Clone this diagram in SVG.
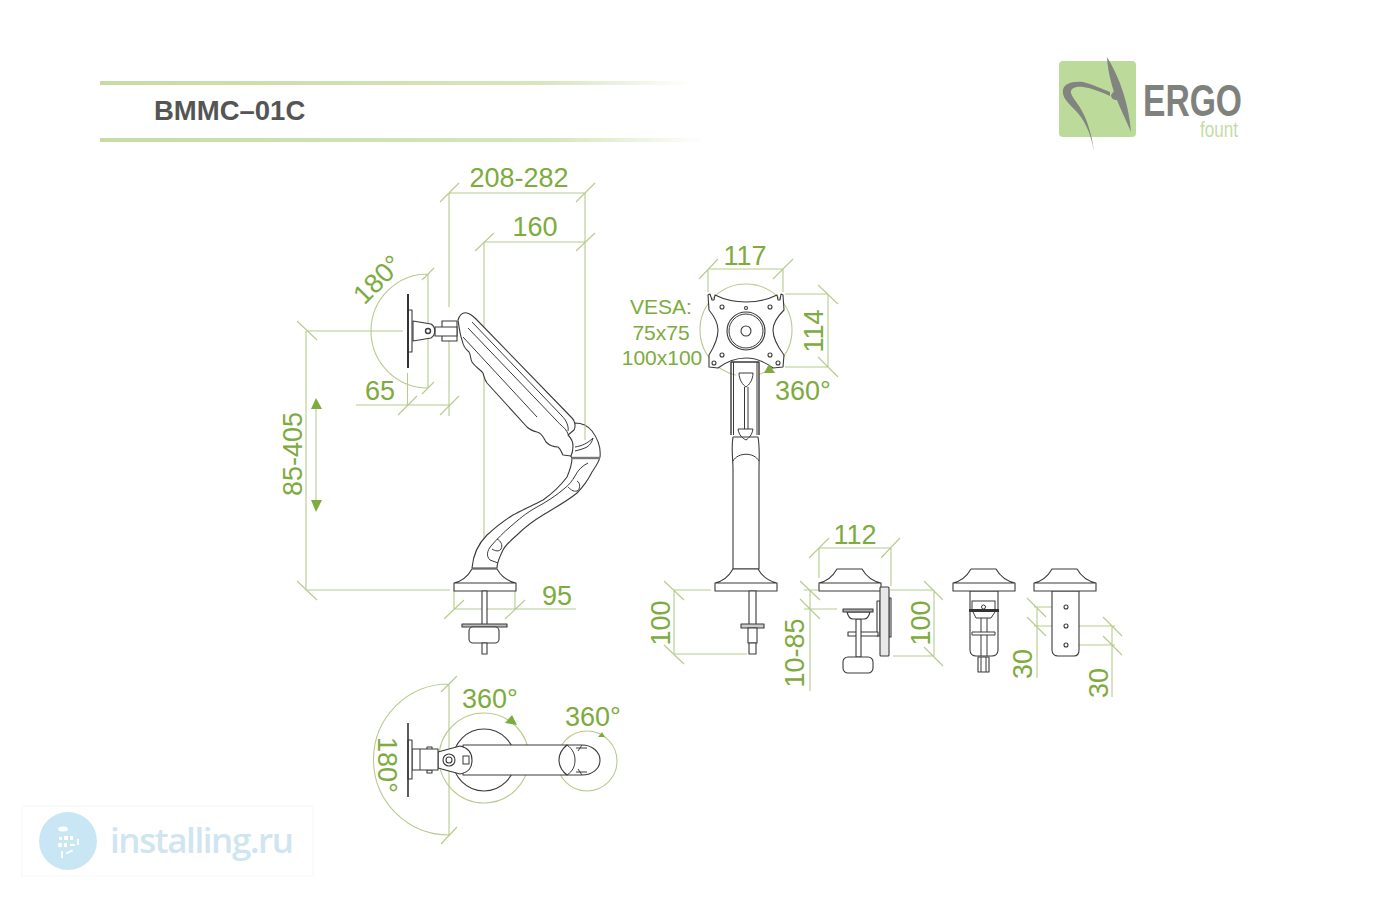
<svg xmlns="http://www.w3.org/2000/svg" width="1400" height="900" viewBox="0 0 1400 900">
<style>
.d{fill:none;stroke:#b6cb8e;stroke-width:1.1}
.k{fill:#fff;stroke:#3a3a3a;stroke-width:1.1;stroke-linejoin:round}
.n{fill:none;stroke:#3a3a3a;stroke-width:1}
.t{font-family:"Liberation Sans",Arial,sans-serif;font-size:27px;fill:#7dab3e;text-anchor:middle}
.v{font-size:21px}
.a{fill:#7dab3e}
</style>
<defs>
<linearGradient id="hl"><stop offset="0" stop-color="#c6dca2"/><stop offset=".75" stop-color="#d6e6bd"/><stop offset="1" stop-color="#fff"/></linearGradient>
<g id="flare"><path class="k" d="M18,0 H43 C47,7 53,12 62,14 V22 H0 V14 C9,12 14,7 18,0Z M0,14 H62"/></g>
</defs>
<rect width="1400" height="900" fill="#fff"/>

<g id="header">
<rect x="100" y="81" width="592" height="4" fill="url(#hl)"/>
<rect x="100" y="138" width="606" height="4" fill="url(#hl)"/>
<text x="154" y="120" font-family="'Liberation Sans',Arial,sans-serif" font-size="27.5" font-weight="700" fill="#555">BMMC–01C</text>
</g>

<g id="logo">
<rect x="1059" y="61" width="77" height="76" rx="4" fill="#bcdb9a"/>
<path fill="#82847f" d="M1107,57 C1120,78 1129,105 1131,132 C1124,114 1109,90 1107,57Z"/>
<path fill="#82847f" d="M1094,152 C1091,133 1084,118 1073,108 C1066,101 1062,96 1063,90 C1064,84 1071,81 1083,82 C1092,84 1102,89 1110,92 L1110,96 C1101,92 1092,88 1083,87 C1075,86 1070,89 1071,93 C1072,97 1076,101 1079,106 C1087,118 1092,135 1094,152Z"/>
<path fill="#82847f" d="M1114,91 C1118,93 1118,99 1117,100 C1113,100 1111,98 1111,95Z"/>
<text x="1143" y="116" font-family="'Liberation Sans Narrow','Liberation Sans',sans-serif" font-size="45" font-weight="700" fill="#7f817d" textLength="99" lengthAdjust="spacingAndGlyphs">ERGO</text>
<text x="1200" y="137" font-family="'Liberation Sans Narrow','Liberation Sans',sans-serif" font-size="22" fill="#c5dca6" textLength="38" lengthAdjust="spacingAndGlyphs">fount</text>
</g>

<g id="watermark">
<rect x="22" y="806" width="291" height="70" fill="#fff" stroke="#f6f6f6"/>
<circle cx="68" cy="841" r="29" fill="#c9e6f4"/>
<g fill="#fff">
<ellipse cx="63" cy="829" rx="5" ry="2.5"/>
<rect x="59" y="837" width="3" height="3"/><rect x="64" y="836" width="4" height="4"/><rect x="70" y="836" width="3" height="4"/>
<circle cx="60" cy="845" r="2.2"/><rect x="64" y="843" width="3" height="4"/><rect x="70" y="844" width="5" height="2"/>
<rect x="61" y="851" width="2" height="7"/><rect x="66" y="851" width="7" height="2" transform="rotate(-25 69 852)"/><rect x="77" y="839" width="2" height="6"/>
</g>
<text x="110" y="853" font-family="'Open Sans','DejaVu Sans',sans-serif" font-size="35" font-weight="600" fill="#cfe5ef" textLength="184" lengthAdjust="spacing">installing.ru</text>
</g>

<g id="connectors">
<path class="d" d="M449,193 H585 M440,202 L459,183 M576,202 L595,183"/>
<path class="d" d="M484,242 H585 M475,251 L494,233 M576,251 L595,233"/>
<path class="d" d="M449,193 V307 M449,340 V416 M585,193 V430 M484,242 V545"/>
<path class="d" d="M428,274 A57,57 0 0 0 428,388 M428,274 V388 M422,280 L434,268 M422,394 L434,382"/>
<path class="d" d="M306,331 H403 M297,321 L317,340 M306,331 V590 H450 M297,581 L317,600"/>
<path class="d" d="M356,405 H450 M398,415 L417,396 M440,415 L459,396 M407.5,373 V405"/>
<path class="d" d="M454,591 V609 M515,591 V609 M454,609 H576 M444,619 L464,600 M505,619 L525,600"/>
<path class="d" d="M708,269 H783 M699,279 L718,259 M773,279 L793,259 M708,269 V292 M783,269 V292"/>
<path class="d" d="M785,294 H828 M785,367 H828 M828,294 V367 M818,285 L838,304 M818,357 L838,377"/>
<circle class="d" cx="746" cy="330" r="46"/>
<path class="d" d="M674,590 V654 M674,590 H711 M674,654 H747 M664,581 L684,600 M664,645 L684,664"/>
<path class="d" d="M819,548 H891 M809,558 L829,538 M881,558 L900,538 M819,548 V578 M891,548 V586"/>
<path class="d" d="M810,590 V691 M804,590 H818 M804,609 H837 M800,581 L820,600 M800,599 L820,619"/>
<path class="d" d="M890,590 H934 M893,656 H934 M934,590 V656 M924,581 L943,600 M924,647 L943,666"/>
<path class="d" d="M1037,607 V678 M1034,607 H1063 M1034,626 H1063 M1027,598 L1046,617 M1027,617 L1046,636"/>
<path class="d" d="M1112,626 V697 M1069,626 H1115 M1069,645 H1115 M1103,617 L1122,636 M1103,636 L1122,655"/>
<path class="d" d="M449,684 A75.5,75.5 0 0 0 449,835 M449,684 V835 M441,692 L457,676 M441,844 L457,827"/>
<circle class="d" cx="484" cy="758" r="45"/>
<circle class="d" cx="587" cy="761" r="30"/>
<path class="d" d="M316,405 V503"/>
<polygon class="a" points="316,398 322,409 311,409"/>
<polygon class="a" points="311,500 322,500 316,512"/>
</g>

<g id="side-view">
<path class="k" d="M575,423 C582,423 588,426 592,431 C598,439 601,448 600,457 C599,462 596,466 592,472 C588,480 583,487 577,493 C566,502 554,508 543,515 C533,521 524,528 517,535 C510,541 505,546 503,550 C499,558 497,563 497,568 L472,568 C473,556 477,545 487,535 C497,526 505,520 513,515 C524,509 534,505 543,500 C553,493 561,485 567,477 C570,470 572,464 572,458 L560,440Z"/>
<path class="d" d="M585,425 V440"/>
<path class="n" d="M572,458 H600" style="stroke:#777;stroke-width:2.4"/>
<path class="n" d="M575,447 C582,446 588,443 593,438 C592,442 590,445 587,447 C583,449 579,450 575,451"/>
<path class="n" d="M588,463 C582,466 578,470 575,476 C572,481 569,485 565,488 C556,496 546,502 537,507 C526,513 518,520 510,527 C504,532 497,539 491,546 C487,551 486,556 490,560 L498,563"/>
<path class="n" d="M497,539 C501,541 503,545 501,549 C499,552 495,551 492,549"/>
<path class="n" d="M577,481 C581,483 580,490 577,491 C573,492 570,489 568,487"/>
<path class="k" d="M458,320 C460,314 463,312 467,313 C471,314 473,316 476,319 L572,418 C575,421 576,426 574,430 L568,435 C571,438 573,441 573,446 C573,451 572,454 571,456 L563,455 C561,452 561,449 558,447 C553,447 549,445 546,442 C543,437 542,433 537,432 C533,431 530,430 527,427 L487,383 C484,379 484,376 483,373 C480,369 475,367 472,362 C470,358 471,355 469,352 C465,349 463,345 462,340 C460,335 459,327 458,320Z"/>
<path class="n" d="M472,322 L562,416 C566,420 569,426 568,431"/>
<path class="n" d="M468,328 L556,420 C560,425 566,428 568,434"/>
<path class="n" d="M463,337 L537,417"/>
<path class="k" d="M442,321 H457 V341 H442Z"/>
<path class="k" d="M435,327 H457 V336 H435Z"/>
<path class="k" d="M413,321 L431,324 C436,327 436,335 431,338 L413,341Z"/>
<circle class="k" cx="428" cy="331" r="2.5" style="stroke-width:1.4"/>
<rect class="k" x="408" y="310" width="4" height="42"/>
<path d="M408,294 V368" stroke="#333" stroke-width="2" fill="none"/>
<use href="#flare" x="454" y="569"/>
<rect class="k" x="482" y="591" width="5" height="34"/>
<rect class="k" x="462" y="624" width="45" height="3" style="fill:#bbb"/>
<rect class="k" x="469" y="627" width="30" height="16" rx="4"/>
<rect class="k" x="482" y="643" width="5" height="11"/>
</g>

<g id="front-view">
<path class="k" d="M733,569 V470 C733,458 731,448 733,437 H758 C760,448 759,458 759,470 V569Z"/>
<path class="n" d="M733,461 C738,452 754,452 759,461"/>
<path class="k" d="M731,362 H759 V435 M731,435 V362" style="stroke-width:1.4"/>
<path class="n" d="M733.5,362 V435 M757,362 V435 M739,373 H753 C753,380 749,385 746,387 C743,385 739,380 739,373Z M744.5,387 V429 M748,387 V429 M738,429 H753 C752,435 749,438 746,440 C742,438 739,435 738,429Z"/>
<path class="k" d="M710,294 L712,300 H714 L715,295 C725,300 736,302 746,302 C757,302 767,300 777,295 L778,300 H780 L781,294 L783,295 L784,310 C778,316 773,322 773,330 C773,338 778,347 784,355 L783,367 L773,368 C765,362 756,358 746,358 C735,358 726,362 718,368 L709,367 L709,355 C714,347 718,338 718,330 C718,322 714,316 709,310 L708,295Z"/>
<g>
<circle class="k" cx="722" cy="307" r="2"/><circle class="k" cx="770" cy="307" r="2"/>
<circle class="k" cx="722" cy="355" r="2"/><circle class="k" cx="770" cy="355" r="2"/>
<circle class="k" cx="714" cy="363" r="2"/><circle class="k" cx="778" cy="363" r="2"/>
<circle class="k" cx="746" cy="308" r="1.5"/>
<circle class="k" cx="746" cy="331" r="19"/><circle class="n" cx="746" cy="331" r="17"/><circle class="k" cx="746" cy="331" r="5"/>
</g>
<polygon class="a" points="769,364 775,373 764,373"/>
<use href="#flare" x="715" y="569"/>
<rect class="k" x="749" y="591" width="7" height="34"/>
<rect class="k" x="741" y="624" width="23" height="4" style="fill:#ccc"/>
<rect class="k" x="748" y="628" width="9" height="15"/>
<rect class="k" x="749" y="643" width="7" height="11"/>
</g>

<g id="clamp-side">
<use href="#flare" x="819" y="569"/>
<rect class="k" x="877" y="601" width="3" height="35"/>
<rect class="k" x="848" y="632" width="30" height="4"/>
<rect class="k" x="889" y="598" width="2" height="39"/>
<rect class="k" x="880" y="587" width="9" height="69" rx="1" style="fill:#e8e8e8"/>
<rect class="k" x="856" y="619" width="5" height="38"/>
<path class="k" d="M847,612 C848,616 850,619 853,619 H864 C867,619 869,616 870,612Z"/>
<rect class="k" x="843" y="609" width="30" height="3" style="fill:#aaa"/>
<rect class="k" x="843" y="657" width="30" height="16" rx="5"/>
</g>

<g id="clamp-back">
<rect class="k" x="978" y="657" width="11" height="15"/>
<path class="n" d="M981,657 V672 M986,657 V672"/>
<path class="k" d="M970,591 H998 V650 C998,654 995,656 992,656 H976 C973,656 970,654 970,650Z"/>
<rect class="n" x="972" y="601" width="23" height="9"/>
<path class="n" d="M973,612 L976,618 H991 L995,612 M981,618 V632 M987,618 V632 M972,632 H995 V635 H972Z M981,635 V656 M987,635 V656"/>
<circle class="n" cx="983.5" cy="607" r="2"/>
<rect x="969" y="609" width="30" height="3" fill="#333"/>
<use href="#flare" x="953" y="569"/>
</g>

<g id="clamp-plate">
<path class="k" d="M1052,591 H1079 V650 C1079,654 1077,656 1074,656 H1058 C1055,656 1052,654 1052,650Z"/>
<circle class="k" cx="1066" cy="607" r="2"/><circle class="k" cx="1066" cy="626" r="2"/><circle class="k" cx="1066" cy="645" r="2"/>
<use href="#flare" x="1034" y="569"/>
</g>

<g id="top-view">
<circle class="k" cx="484" cy="760" r="31"/>
<path class="k" d="M463,745 H567 C562,750 560,755 560,760 C560,766 562,771 567,775 H463Z"/>
<path class="k" d="M567,745 H582 C592,745 600,752 600,760 C600,769 592,775 582,775 H567 C562,771 559,766 559,760 C559,754 562,749 567,745Z"/>
<path class="n" d="M567,745 C573,749 575,755 575,760 C575,766 573,771 567,775 M576,748 L587,748 M576,772 L587,772 M578,751 L582,745 M578,769 L582,775"/>
<path class="k" d="M438,752 L460,746 C469,748 472,754 472,760 C472,768 469,772 460,774 L438,768Z"/>
<rect class="n" x="463" y="756" width="6" height="8"/>
<circle class="k" cx="449" cy="760" r="6"/><circle class="k" cx="449" cy="760" r="3"/>
<rect class="k" x="427" y="747" width="5" height="3"/><rect class="k" x="427" y="770" width="5" height="3"/>
<rect class="k" x="412" y="749" width="26" height="21"/>
<path class="n" d="M420,749 V770"/>
<rect class="k" x="408" y="740" width="4" height="39"/>
<path d="M408,723 V797" stroke="#333" stroke-width="1.6" fill="none"/>
<polygon class="a" points="512,715 517,725 505,723"/>
<polygon class="a" points="602,732 605,737 598,737"/>
</g>

<g id="labels">
<text class="t" x="519" y="187">208-282</text>
<text class="t" x="535" y="236">160</text>
<text class="t" transform="translate(377,279) rotate(-45)" y="10">180°</text>
<text class="t" x="380" y="400">65</text>
<text class="t" transform="translate(292,454) rotate(-90)" y="10">85-405</text>
<text class="t" x="557" y="605">95</text>
<text class="t" x="745" y="265">117</text>
<text class="t" transform="translate(813,331) rotate(-90)" y="10">114</text>
<text class="t v" x="661" y="314">VESA:</text>
<text class="t v" x="661" y="340">75x75</text>
<text class="t v" x="662" y="365">100x100</text>
<text class="t" x="803" y="400">360°</text>
<text class="t" transform="translate(660,623) rotate(-90)" y="10">100</text>
<text class="t" x="855" y="544">112</text>
<text class="t" transform="translate(794,653) rotate(-90)" y="10">10-85</text>
<text class="t" transform="translate(920,623) rotate(-90)" y="10">100</text>
<text class="t" transform="translate(1022,664) rotate(-90)" y="10">30</text>
<text class="t" transform="translate(1098,683) rotate(-90)" y="10">30</text>
<text class="t" x="490" y="708">360°</text>
<text class="t" x="593" y="726">360°</text>
<text class="t" transform="translate(388,765) rotate(90)" y="10">180°</text>
</g>
</svg>
